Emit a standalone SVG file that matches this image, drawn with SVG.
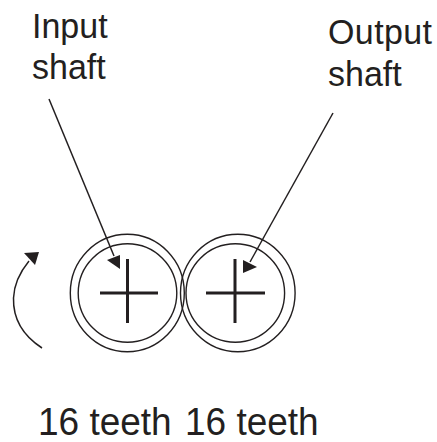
<svg xmlns="http://www.w3.org/2000/svg" width="437" height="442" viewBox="0 0 437 442">
<style>
text{font-family:"Liberation Sans",Arial,sans-serif;font-size:34px;fill:#231f20}
.big{font-size:37px}
.c{fill:none;stroke:#231f20;stroke-width:1.4}
.x{stroke:#231f20;stroke-width:3;fill:none}
.a{fill:none;stroke:#231f20;stroke-width:1.5}
.h{fill:#231f20}
</style>
<rect width="437" height="442" fill="#fff"/>
<g id="input-shaft-label"><text transform="translate(32,37.500) scale(1,1.05)">Input</text><text transform="translate(32,79) scale(1,1.05)">shaft</text></g>
<g id="output-shaft-label"><text transform="translate(328,44) scale(1,1.05)" textLength="104">Output</text><text transform="translate(328,86) scale(1,1.05)">shaft</text></g>
<g id="input-gear"><ellipse class="c" cx="127.300" cy="293" rx="57" ry="58.700"/><circle class="c" cx="127.500" cy="293" r="49.300"/><path class="x" d="M100 293H158M127.500 259V323"/></g>
<g id="output-gear"><ellipse class="c" cx="237.800" cy="293" rx="57.300" ry="58.700"/><circle class="c" cx="235.300" cy="293" r="49.300"/><path class="x" d="M206 293H265M235 259V323"/></g>
<g id="connectors">
<path class="a" d="M49 99L114 256"/><path class="h" d="M120 269L107 260L120 255Z"/>
<path class="a" d="M333 113L250 262"/><path class="h" d="M243 273L243 260L257 267Z"/>
<path class="a" d="M42 348C22 335 13 317 13.500 298C14 285 20 272 29 261"/><path class="h" d="M39 252L24 253L35 265Z"/>
</g>
<g id="teeth-labels"><text class="big" transform="translate(38,435) scale(1,1.03)">16 teeth</text><text class="big" transform="translate(185,435) scale(1,1.03)">16 teeth</text></g>
</svg>
